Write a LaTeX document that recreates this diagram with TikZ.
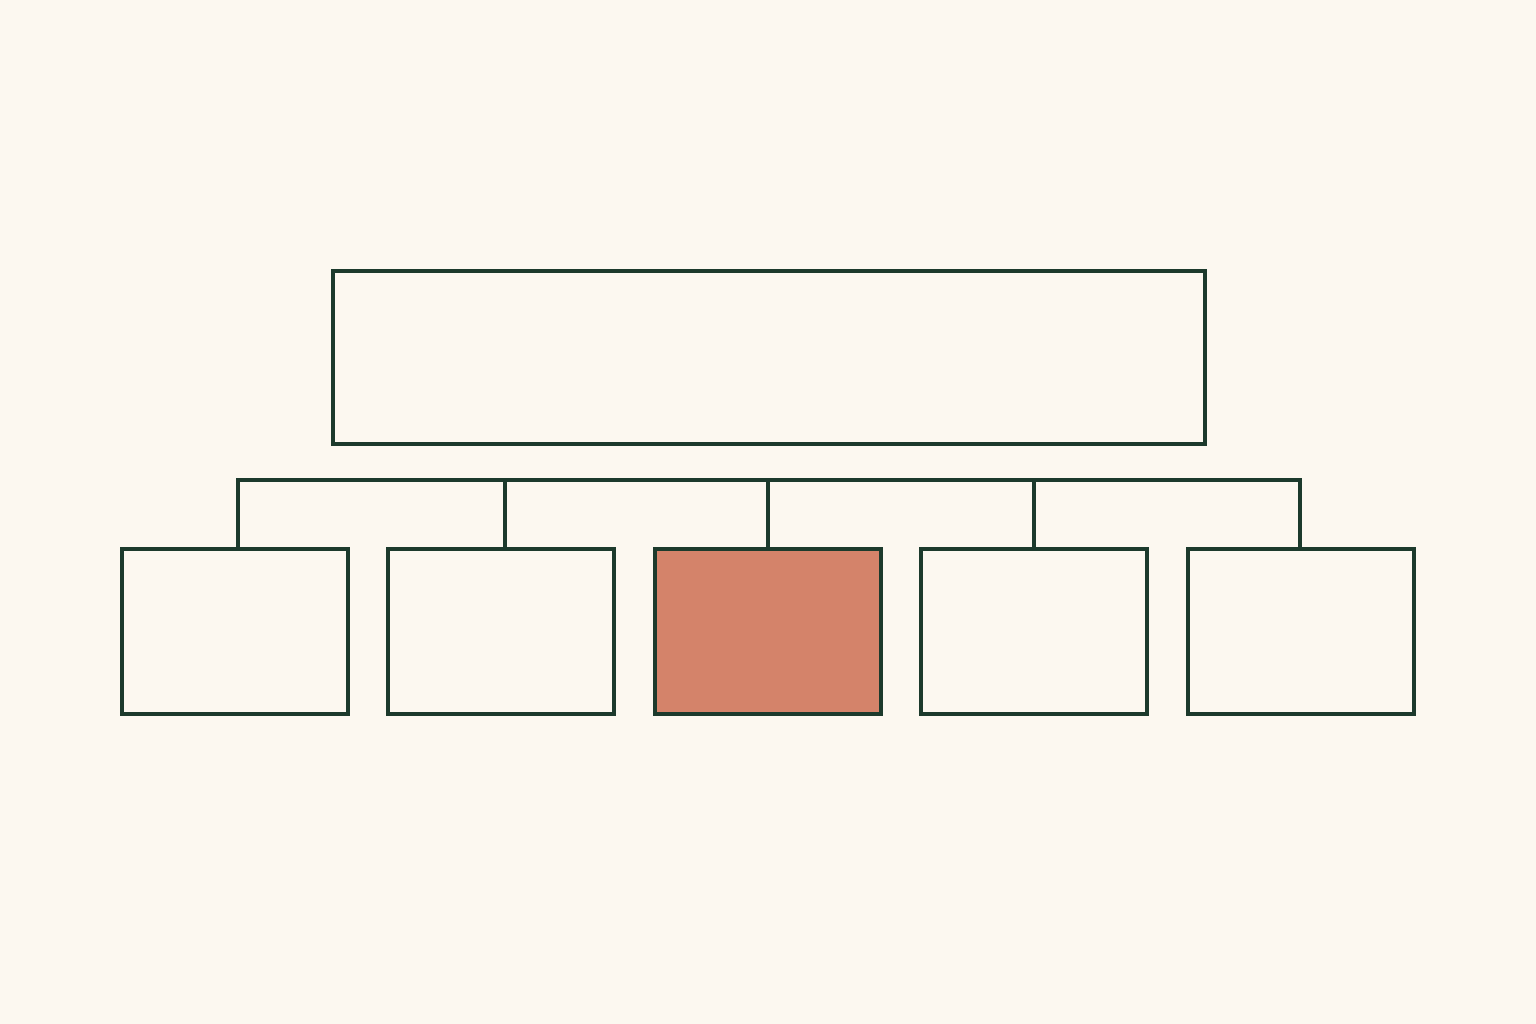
\documentclass[tikz,border=0pt]{standalone}
\definecolor{paper}{HTML}{FCF8F0}
\definecolor{pine}{HTML}{1C3A2C}
\definecolor{clay}{HTML}{D4836A}
\tikzset{
  box/.style={draw=pine,line width=1.15pt,minimum width=2.26cm,minimum height=1.65cm,inner sep=0pt},
  wire/.style={-,draw=pine,line width=1.15pt}
}
\begin{document}
\begin{tikzpicture}[x=0.01cm,y=-0.01cm]
\fill[paper] (0,0) rectangle (1536,1024);
\useasboundingbox (0,0) rectangle (1536,1024);

\node[box,minimum width=8.72cm,minimum height=1.73cm] (top) at (769,357.5) {};

\node[box] (b1) at (235,631.5) {};
\node[box] (b2) at (501,631.5) {};
\node[box,fill=clay] (b3) at (768,631.5) {};
\node[box] (b4) at (1034,631.5) {};
\node[box] (b5) at (1301,631.5) {};

\coordinate (bus1) at (238,480);
\coordinate (bus2) at (505,480);
\coordinate (bus3) at (768,480);
\coordinate (bus4) at (1034,480);
\coordinate (bus5) at (1300,480);

\draw[wire,line cap=rect] (bus1) -- (bus5);
\foreach \i in {1,...,5}
  \draw[wire] (bus\i) -- (bus\i |- b\i.north);
\end{tikzpicture}
\end{document}
